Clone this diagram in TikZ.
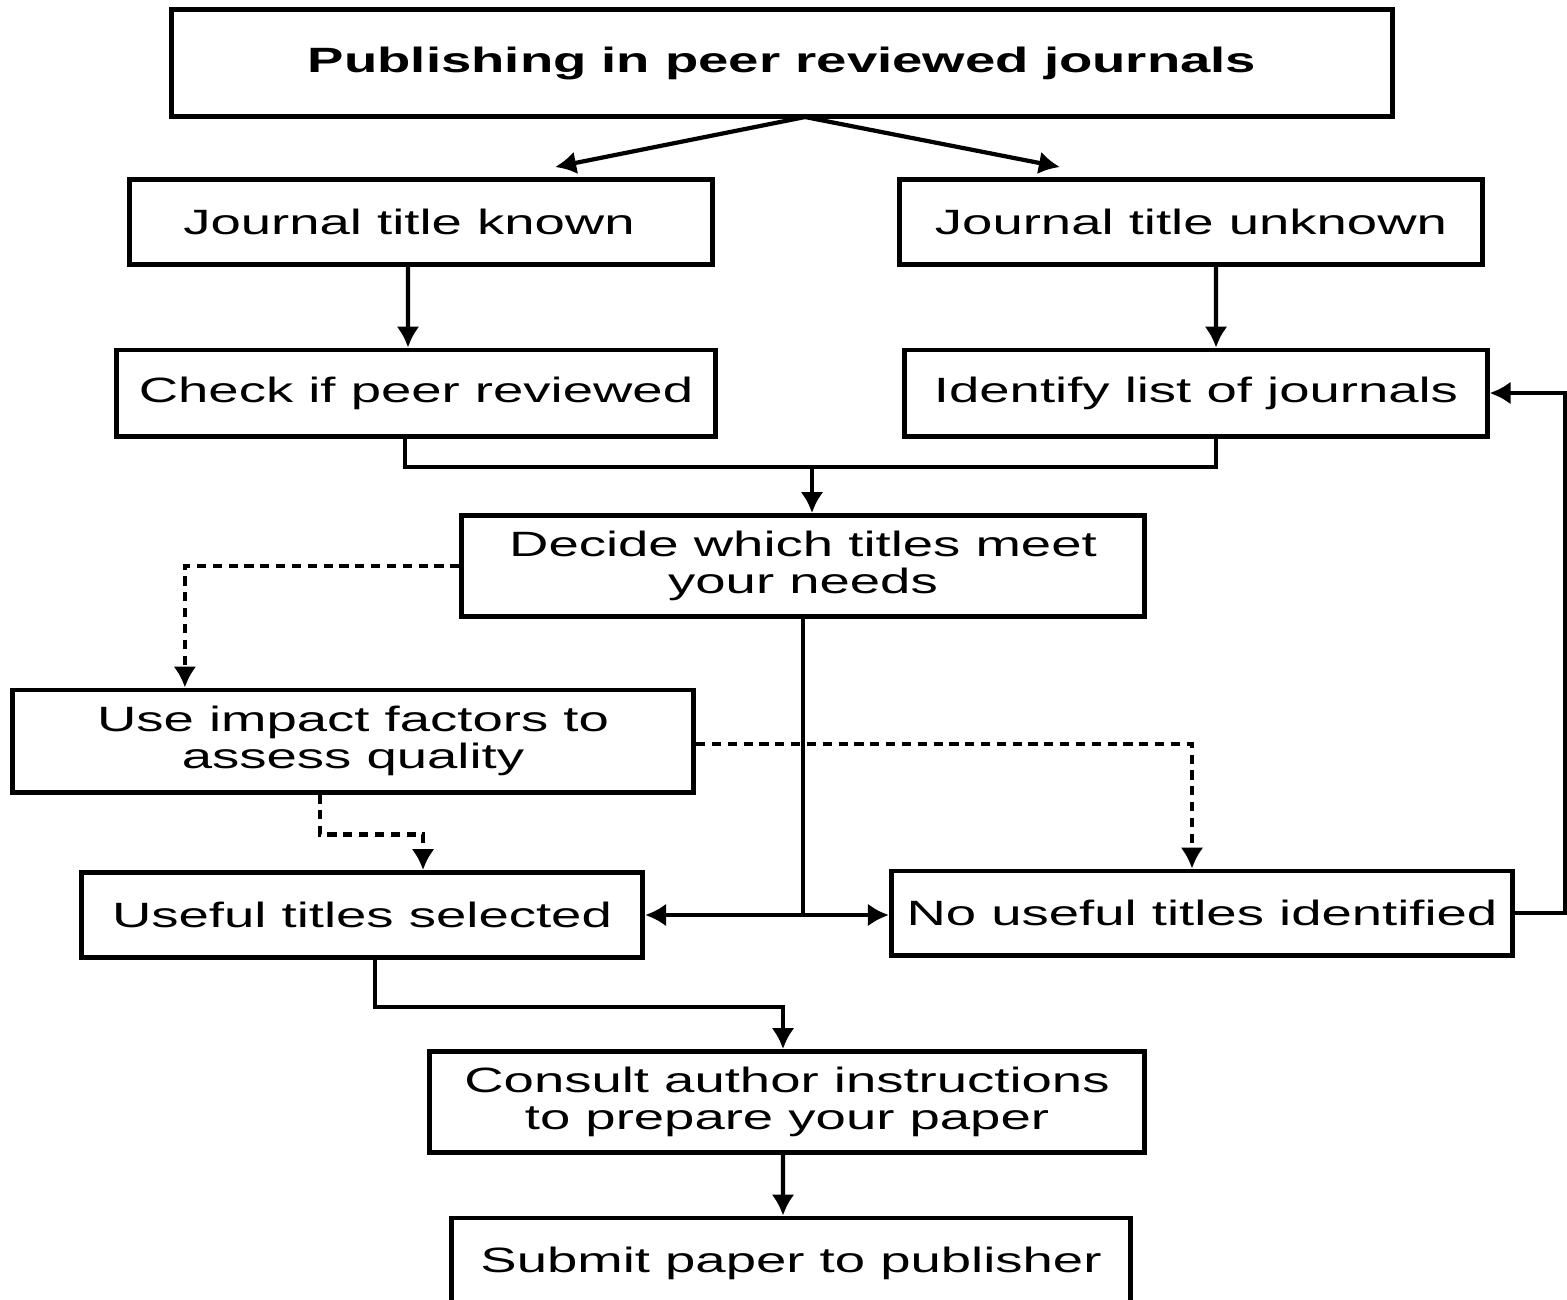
\documentclass[tikz,border=0pt]{standalone}
\usepackage{fontspec}
\setmainfont[FakeStretch=1.55]{Liberation Sans}
\usetikzlibrary{arrows.meta}
\tikzset{
  stepbox/.style={draw, line width=1.4pt, align=center, inner sep=0pt,
    font=\fontsize{10}{10.5}\selectfont},
  arr/.style={-{Latex[length=2.1mm,width=2.3mm]}, line width=1.2pt},
  dline/.style={line width=1.4pt, dash pattern=on 2.6pt off 1.9pt},
}
\begin{document}
\begin{tikzpicture}[x=0.01cm,y=-0.01cm]
  \useasboundingbox (0,0) rectangle (1567,1299);
  \clip (0,0) rectangle (1567,1299);
  % boxes
  \node[stepbox, minimum width=12.21cm, minimum height=1.07cm, font=\fontsize{10}{10.5}\selectfont\bfseries] (title) at (782,63) {Publishing in peer reviewed journals};
  \node[stepbox, minimum width=5.82cm, minimum height=0.85cm] (known) at (421,222) {Journal title known\hspace{0.24cm}};
  \node[stepbox, minimum width=5.83cm, minimum height=0.85cm] (unknown) at (1191,222) {Journal title unknown};
  \node[stepbox, minimum width=5.99cm, minimum height=0.86cm] (check) at (416,393) {Check if peer reviewed};
  \node[stepbox, minimum width=5.82cm, minimum height=0.86cm] (identify) at (1196,393) {Identify list of journals};
  \node[stepbox, minimum width=6.82cm, minimum height=1.01cm] (decide) at (803,566) {Decide which titles meet\\your needs};
  \node[stepbox, minimum width=6.81cm, minimum height=1.02cm] (impact) at (353,741) {Use impact factors to\\assess quality};
  \node[stepbox, minimum width=5.61cm, minimum height=0.85cm] (useful) at (362,915) {Useful titles selected};
  \node[stepbox, minimum width=6.21cm, minimum height=0.84cm] (nouseful) at (1202,913) {No useful titles identified};
  \node[stepbox, minimum width=7.14cm, minimum height=1.01cm] (consult) at (787,1102) {Consult author instructions\\to prepare your paper};
  \node[stepbox, minimum width=6.79cm, minimum height=0.9cm] (submit) at (791,1263) {Submit paper to publisher};
  % connectors
  \coordinate (split) at (805,117);
  \draw[arr] (split) -- ([xshift=1.34cm,yshift=0.1cm]known.north);
  \draw[arr] (split) -- ([xshift=-1.31cm,yshift=0.1cm]unknown.north);
  \draw[arr] ([xshift=-0.13cm]known.south) -- ([xshift=-0.08cm]check.north);
  \draw[arr] ([xshift=0.25cm]unknown.south) -- ([xshift=0.2cm]identify.north);
  \coordinate (merge) at (812,467);
  \draw[line width=1.2pt] ([xshift=-0.11cm]check.south) |- ([xshift=0.2cm]identify.south |- merge) -- ([xshift=0.2cm]identify.south);
  \draw[arr] (merge) -- (merge |- decide.north);
  \draw[dline, arr] (decide.west) -| ([xshift=-1.68cm]impact.north);
  \coordinate (fork) at (decide.south |- useful.east);
  \draw[line width=1.2pt] (decide.south) -- (fork);
  \draw[arr] (fork) -- (useful.east);
  \draw[arr] (fork) -- (fork -| nouseful.west);
  \draw[dline, arr] ([yshift=-0.03cm]impact.east) -| ([xshift=-0.1cm]nouseful.north);
  \draw[dline, arr] ([xshift=-0.33cm]impact.south) -- ++(0,40) -| ([xshift=0.61cm]useful.north);
  \draw[arr] (nouseful.east) -- ++(50,0) |- (identify.east);
  \draw[arr] ([xshift=0.13cm]useful.south) -- ++(0,47) -| ([xshift=-0.04cm]consult.north);
  \draw[arr] ([xshift=-0.04cm]consult.south) -- ([xshift=-0.08cm]submit.north);
\end{tikzpicture}
\end{document}
